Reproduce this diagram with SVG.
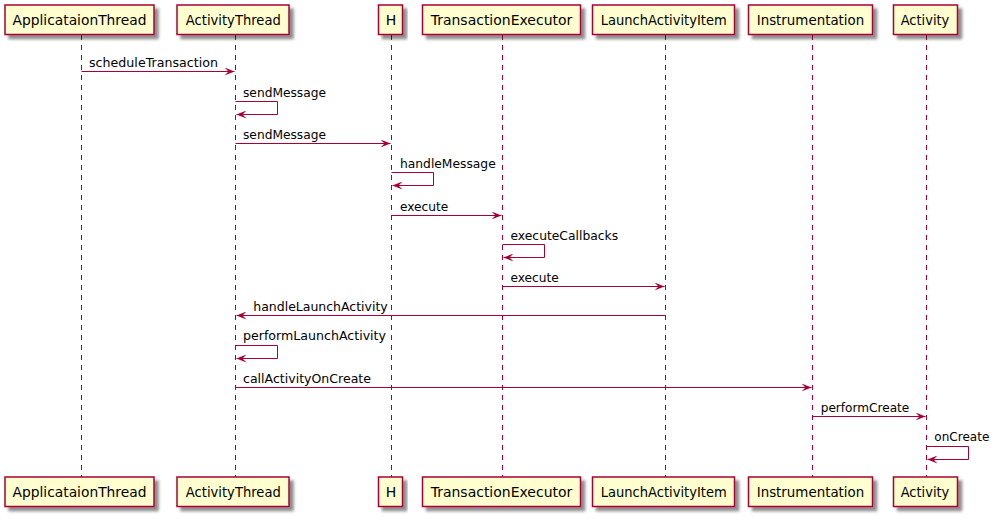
<svg xmlns="http://www.w3.org/2000/svg" width="995" height="519" viewBox="0 0 995 519">
<defs>
<filter id="sh" x="-10%" y="-20%" width="130%" height="160%">
<feGaussianBlur in="SourceAlpha" stdDeviation="1.7"/>
<feOffset dx="4" dy="4" result="b"/>
<feComponentTransfer><feFuncA type="linear" slope="0.45"/></feComponentTransfer>
<feMerge><feMergeNode/><feMergeNode in="SourceGraphic"/></feMerge>
</filter>
<marker id="ah" viewBox="0 0 10 8" refX="10" refY="4" markerWidth="10" markerHeight="8" markerUnits="userSpaceOnUse" orient="auto">
<polygon points="0,0 10,4 0,8 4,4" fill="#A80036"/>
</marker>
</defs>
<style>
.box{fill:#FEFECE;stroke:#A80036;stroke-width:1.5;}
.life{stroke:#A80036;stroke-width:1;stroke-dasharray:5,5;fill:none;}
.pt{font-family:"DejaVu Sans",sans-serif;font-size:14px;fill:#000;text-anchor:middle;}
.msg{stroke:#A80036;stroke-width:1;fill:none;}
.ml{font-family:"DejaVu Sans",sans-serif;font-size:13px;fill:#000;}
</style>
<rect width="995" height="519" fill="#FFFFFF"/>
<g id="lifelines">
<line class="life" x1="81.5" y1="35" x2="81.5" y2="477"/>
<line class="life" x1="235.5" y1="35" x2="235.5" y2="477"/>
<line class="life" x1="391.5" y1="35" x2="391.5" y2="477"/>
<line class="life" x1="502.5" y1="35" x2="502.5" y2="477"/>
<line class="life" x1="665.5" y1="35" x2="665.5" y2="477"/>
<line class="life" x1="812.5" y1="35" x2="812.5" y2="477"/>
<line class="life" x1="926.5" y1="35" x2="926.5" y2="477"/>
</g>
<g id="ApplicataionThread">
<rect class="box" filter="url(#sh)" x="5" y="5" width="149" height="29.5"/>
<text class="pt" x="79.5" y="25" textLength="134" lengthAdjust="spacingAndGlyphs">ApplicataionThread</text>
<rect class="box" filter="url(#sh)" x="5" y="477" width="149" height="29.5"/>
<text class="pt" x="79.5" y="497" textLength="134" lengthAdjust="spacingAndGlyphs">ApplicataionThread</text>
</g>
<g id="ActivityThread">
<rect class="box" filter="url(#sh)" x="177" y="5" width="112" height="29.5"/>
<text class="pt" x="233.3" y="25" textLength="95" lengthAdjust="spacingAndGlyphs">ActivityThread</text>
<rect class="box" filter="url(#sh)" x="177" y="477" width="112" height="29.5"/>
<text class="pt" x="233.3" y="497" textLength="95" lengthAdjust="spacingAndGlyphs">ActivityThread</text>
</g>
<g id="H">
<rect class="box" filter="url(#sh)" x="378.5" y="5" width="24" height="29.5"/>
<text class="pt" x="391" y="25">H</text>
<rect class="box" filter="url(#sh)" x="378.5" y="477" width="24" height="29.5"/>
<text class="pt" x="391" y="497">H</text>
</g>
<g id="TransactionExecutor">
<rect class="box" filter="url(#sh)" x="422.5" y="5" width="158" height="29.5"/>
<text class="pt" x="501.5" y="25" textLength="141.6" lengthAdjust="spacingAndGlyphs">TransactionExecutor</text>
<rect class="box" filter="url(#sh)" x="422.5" y="477" width="158" height="29.5"/>
<text class="pt" x="501.5" y="497" textLength="141.6" lengthAdjust="spacingAndGlyphs">TransactionExecutor</text>
</g>
<g id="LaunchActivityItem">
<rect class="box" filter="url(#sh)" x="592.5" y="5" width="142" height="29.5"/>
<text class="pt" x="663.7" y="25" textLength="126" lengthAdjust="spacingAndGlyphs">LaunchActivityItem</text>
<rect class="box" filter="url(#sh)" x="592.5" y="477" width="142" height="29.5"/>
<text class="pt" x="663.7" y="497" textLength="126" lengthAdjust="spacingAndGlyphs">LaunchActivityItem</text>
</g>
<g id="Instrumentation">
<rect class="box" filter="url(#sh)" x="748.5" y="5" width="124" height="29.5"/>
<text class="pt" x="810.5" y="25" textLength="107.6" lengthAdjust="spacingAndGlyphs">Instrumentation</text>
<rect class="box" filter="url(#sh)" x="748.5" y="477" width="124" height="29.5"/>
<text class="pt" x="810.5" y="497" textLength="107.6" lengthAdjust="spacingAndGlyphs">Instrumentation</text>
</g>
<g id="Activity">
<rect class="box" filter="url(#sh)" x="893.5" y="5" width="64" height="29.5"/>
<text class="pt" x="925" y="25" textLength="48.6" lengthAdjust="spacingAndGlyphs">Activity</text>
<rect class="box" filter="url(#sh)" x="893.5" y="477" width="64" height="29.5"/>
<text class="pt" x="925" y="497" textLength="48.6" lengthAdjust="spacingAndGlyphs">Activity</text>
</g>
<g id="connectors">
<line class="msg" x1="81.5" y1="71.5" x2="234.5" y2="71.5" marker-end="url(#ah)"/>
<text class="ml" x="89" y="67" textLength="129" lengthAdjust="spacingAndGlyphs">scheduleTransaction</text>

<polyline class="msg" points="235.5,101.5 277.5,101.5 277.5,114.5 236.5,114.5" marker-end="url(#ah)"/>
<text class="ml" x="243" y="96.5" textLength="83" lengthAdjust="spacingAndGlyphs">sendMessage</text>

<line class="msg" x1="235.5" y1="143.5" x2="390.5" y2="143.5" marker-end="url(#ah)"/>
<text class="ml" x="243" y="138.5" textLength="83" lengthAdjust="spacingAndGlyphs">sendMessage</text>

<polyline class="msg" points="391.5,172.5 433.5,172.5 433.5,185.5 392.5,185.5" marker-end="url(#ah)"/>
<text class="ml" x="400" y="167.5" textLength="95.7" lengthAdjust="spacingAndGlyphs">handleMessage</text>

<line class="msg" x1="391.5" y1="215.5" x2="501.5" y2="215.5" marker-end="url(#ah)"/>
<text class="ml" x="400" y="210.5" textLength="48.3" lengthAdjust="spacingAndGlyphs">execute</text>

<polyline class="msg" points="502.5,244.5 544.5,244.5 544.5,257.5 503.5,257.5" marker-end="url(#ah)"/>
<text class="ml" x="510.5" y="239.5" textLength="107.6" lengthAdjust="spacingAndGlyphs">executeCallbacks</text>

<line class="msg" x1="502.5" y1="286.5" x2="664.5" y2="286.5" marker-end="url(#ah)"/>
<text class="ml" x="510.5" y="282" textLength="48.3" lengthAdjust="spacingAndGlyphs">execute</text>

<line class="msg" x1="665.5" y1="315.5" x2="236.5" y2="315.5" marker-end="url(#ah)"/>
<text class="ml" x="253.3" y="310.5" textLength="134.4" lengthAdjust="spacingAndGlyphs">handleLaunchActivity</text>

<polyline class="msg" points="235.5,345.5 277.5,345.5 277.5,358.5 236.5,358.5" marker-end="url(#ah)"/>
<text class="ml" x="243" y="340" textLength="143" lengthAdjust="spacingAndGlyphs">performLaunchActivity</text>

<line class="msg" x1="235.5" y1="387.5" x2="811.5" y2="387.5" marker-end="url(#ah)"/>
<text class="ml" x="243" y="382.5" textLength="128" lengthAdjust="spacingAndGlyphs">callActivityOnCreate</text>

<line class="msg" x1="812.5" y1="416.5" x2="925.5" y2="416.5" marker-end="url(#ah)"/>
<text class="ml" x="820.7" y="411.5" textLength="88.6" lengthAdjust="spacingAndGlyphs">performCreate</text>

<polyline class="msg" points="926.5,446.5 968.5,446.5 968.5,459.5 927.5,459.5" marker-end="url(#ah)"/>
<text class="ml" x="934.3" y="441" textLength="55" lengthAdjust="spacingAndGlyphs">onCreate</text>
</g>
</svg>
